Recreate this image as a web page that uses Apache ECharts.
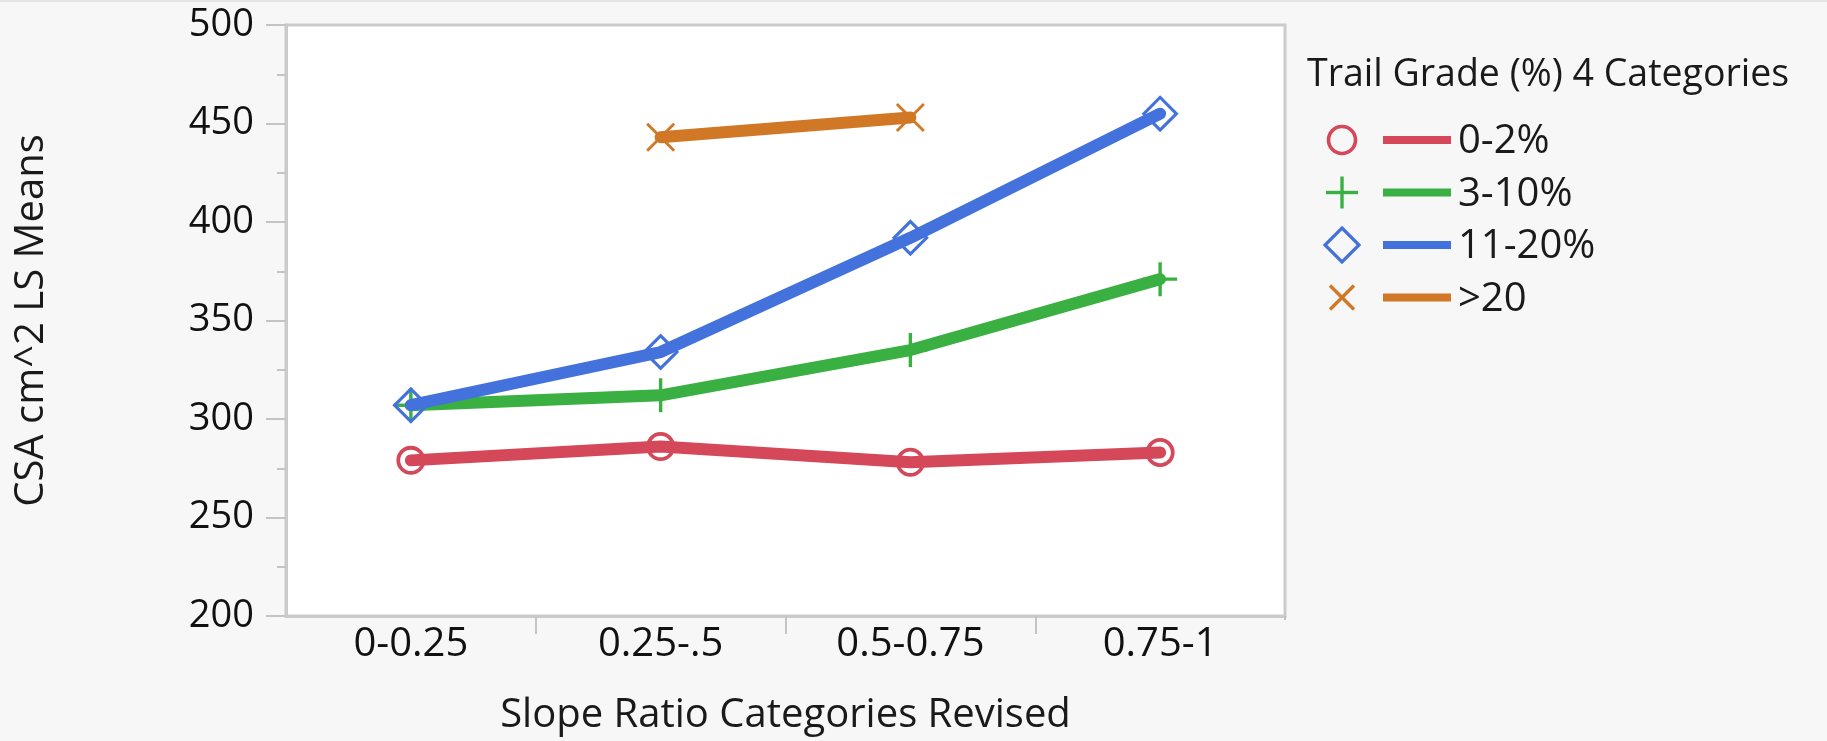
<!DOCTYPE html>
<html>
<head>
<meta charset="utf-8">
<title>CSA cm^2 LS Means by Slope Ratio Categories Revised</title>
<script src="https://cdn.jsdelivr.net/npm/echarts@6/dist/echarts.min.js"></script>
<style>
  html, body { margin: 0; padding: 0; background: #f7f7f7; }
  #chart { width: 1827px; height: 741px; }
</style>
</head>
<body>
<div id="chart"></div>
<script>
// Slope ratio categories (x axis)
const categories = ['0-0.25', '0.25-.5', '0.5-0.75', '0.75-1'];

// LS means of CSA (cm^2) per trail grade group; null = no estimate
const grade0to2 = [279, 286, 278, 283];
const grade3to10 = [307, 312, 335, 371];
const grade11to20 = [307, 334, 392, 455];
const gradeOver20 = [null, 443, 453, null];

const seriesNames = ['0-2%', '3-10%', '11-20%', '>20'];
const seriesColors = ['#d4485a', '#3ab043', '#4472dc', '#d07826'];

const legendTitle = 'Trail Grade (%) 4 Categories';
const xTitle = 'Slope Ratio Categories Revised';
const yTitle = 'CSA cm^2 LS Means';

const FONT = '"Open Sans", "Noto Sans", sans-serif';
const BG = '#f7f7f7';

// Hollow marker outlines (filled rings so the line shows through)
const ringCircle = 'path://M50,0 A50,50 0 1,1 50,100 A50,50 0 1,1 50,0 Z M50,13 A37,37 0 1,0 50,87 A37,37 0 1,0 50,13 Z';
const plusMark = 'path://M45,0 H55 V45 H100 V55 H55 V100 H45 V55 H0 V45 H45 Z';
const ringDiamond = 'path://M50,0 L100,50 L50,100 L0,50 Z M50,12 L12,50 L50,88 L88,50 Z';
const crossMark = 'path://M0,7 L7,0 L50,43 L93,0 L100,7 L57,50 L100,93 L93,100 L50,57 L7,100 L0,93 L43,50 Z';

const symbols = [ringCircle, plusMark, ringDiamond, crossMark];
const symbolSizes = [29, 34, 37, 29];
const seriesData = [grade0to2, grade3to10, grade11to20, gradeOver20];

const chart = echarts.init(document.getElementById('chart'), null, { renderer: 'canvas' });

const series = seriesNames.map((name, i) => ({
  name: name,
  type: 'line',
  data: seriesData[i],
  connectNulls: false,
  symbol: symbols[i],
  symbolSize: symbolSizes[i],
  showAllSymbol: true,
  lineStyle: { color: seriesColors[i], width: 12, cap: 'round', join: 'round' },
  itemStyle: { color: seriesColors[i] },
  emphasis: { disabled: true },
  z: 2 + i
}));

// Legend block drawn to the right of the frame
const legendX = 1307;
const legendRowY = [140, 192.5, 245, 297.5];
const symX = 1342;
const legendGraphics = [
  { type: 'rect', z: 100, shape: { x: 0, y: 0, width: 1827, height: 2 }, style: { fill: '#e2e5e8' } },
  // keeps the bottom-right frame corner free of a tick stub
  { type: 'rect', z: 100, shape: { x: 1283, y: 620, width: 8, height: 22 }, style: { fill: BG } },
  {
    type: 'text', x: legendX, y: 75, z: 100,
    style: { text: legendTitle, font: '37.5px ' + FONT, fill: '#1a1a1a', verticalAlign: 'middle', textAlign: 'left' }
  }
];
seriesNames.forEach((name, i) => {
  const y = legendRowY[i];
  const c = seriesColors[i];
  if (i === 0) {
    legendGraphics.push({ type: 'circle', z: 100, shape: { cx: symX, cy: y, r: 13.5 }, style: { fill: 'none', stroke: c, lineWidth: 3.6 } });
  } else if (i === 1) {
    legendGraphics.push({ type: 'line', z: 100, shape: { x1: symX - 16, y1: y, x2: symX + 16, y2: y }, style: { stroke: c, lineWidth: 3.4 } });
    legendGraphics.push({ type: 'line', z: 100, shape: { x1: symX, y1: y - 16, x2: symX, y2: y + 16 }, style: { stroke: c, lineWidth: 3.4 } });
  } else if (i === 2) {
    legendGraphics.push({ type: 'polygon', z: 100, shape: { points: [[symX, y - 17], [symX + 17, y], [symX, y + 17], [symX - 17, y]] }, style: { fill: 'none', stroke: c, lineWidth: 3.2 } });
  } else {
    legendGraphics.push({ type: 'line', z: 100, shape: { x1: symX - 12, y1: y - 12, x2: symX + 12, y2: y + 12 }, style: { stroke: c, lineWidth: 3.4 } });
    legendGraphics.push({ type: 'line', z: 100, shape: { x1: symX - 12, y1: y + 12, x2: symX + 12, y2: y - 12 }, style: { stroke: c, lineWidth: 3.4 } });
  }
  legendGraphics.push({ type: 'line', z: 100, shape: { x1: 1383, y1: y, x2: 1451, y2: y }, style: { stroke: c, lineWidth: 8 } });
  legendGraphics.push({
    type: 'text', x: 1458, y: y + 2, z: 100,
    style: { text: name, font: '40px ' + FONT, fill: '#1a1a1a', verticalAlign: 'middle', textAlign: 'left' }
  });
});

const option = {
  backgroundColor: BG,
  animation: false,
  textStyle: { fontFamily: FONT },
  grid: {
    left: 286, top: 25, width: 999, height: 593,
    show: true, backgroundColor: '#ffffff',
    borderColor: '#cbcbcb', borderWidth: 3
  },
  xAxis: {
    type: 'category',
    data: categories,
    boundaryGap: true,
    name: xTitle,
    nameLocation: 'middle',
    nameGap: 80,
    nameTextStyle: { fontSize: 40, color: '#1a1a1a', fontFamily: FONT },
    axisLine: { show: true, lineStyle: { color: '#cbcbcb', width: 3 } },
    axisTick: {
      show: true, length: 18, lineStyle: { color: '#c4c4c4', width: 2 },
      interval: (index) => index > 0
    },
    axisLabel: { fontSize: 40, color: '#111', margin: 9, fontFamily: FONT },
    splitLine: { show: false }
  },
  yAxis: {
    type: 'value',
    min: 200, max: 500, interval: 50,
    name: yTitle,
    nameLocation: 'middle',
    nameGap: 234,
    nameTextStyle: { fontSize: 40, color: '#1a1a1a', fontFamily: FONT },
    axisLine: { show: true, lineStyle: { color: '#cbcbcb', width: 3 } },
    axisTick: { show: true, length: 20, lineStyle: { color: '#c4c4c4', width: 2 } },
    minorTick: { show: true, splitNumber: 2, length: 9, lineStyle: { color: '#c4c4c4', width: 2 } },
    axisLabel: { fontSize: 38, color: '#111', margin: 32, fontFamily: FONT },
    splitLine: { show: false }
  },
  series: series,
  graphic: legendGraphics
};

chart.setOption(option);
</script>
</body>
</html>
